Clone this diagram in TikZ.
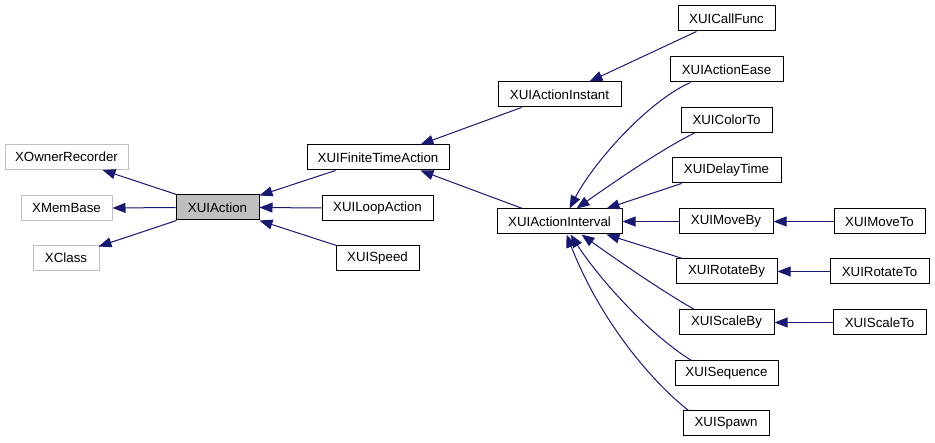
\documentclass[tikz,border=0pt]{standalone}
\usepackage{fontspec}
\setmainfont{Liberation Sans}
\usetikzlibrary{arrows.meta,calc}
\definecolor{edgeblue}{HTML}{191970}
\definecolor{graybox}{HTML}{BFBFBF}
\begin{document}
\begin{tikzpicture}[x=1pt,y=-1pt,
  cls/.style={draw=black,line width=1pt,fill=white,minimum height=25pt,inner sep=0pt,
    font=\fontsize{13.3}{16}\selectfont},
  ext/.style={cls,draw=graybox},
  cur/.style={cls,fill=graybox},
  edge/.style={draw=edgeblue,line width=1pt,-{Triangle[length=13pt,width=10pt]}}]
\fill[white] (0,0) rectangle (935,443);
\useasboundingbox (0,0) rectangle (935,443);
% nodes
\node[ext,minimum width=123pt] (own) at (66.5,157) {XOwnerRecorder};
\node[ext,minimum width=91pt] (mem) at (66.5,208) {XMemBase};
\node[ext,minimum width=66pt] (xcl) at (66,258) {XClass};
\node[cur,minimum width=83pt] (act) at (217.5,207.5) {XUIAction};
\node[cls,minimum width=142pt] (fin) at (378,157.5) {XUIFiniteTimeAction};
\node[cls,minimum width=111pt] (loop) at (377.5,208) {XUILoopAction};
\node[cls,minimum width=83pt] (spd) at (377.5,258.5) {XUISpeed};
\node[cls,minimum width=123pt] (inst) at (559.5,94.5) {XUIActionInstant};
\node[cls,minimum width=125pt] (intv) at (559.5,221.5) {XUIActionInterval};
\node[cls,minimum width=97pt] (call) at (726.5,18.5) {XUICallFunc};
\node[cls,minimum width=113pt] (ease) at (726.5,69.5) {XUIActionEase};
\node[cls,minimum width=91pt] (col) at (726.5,120) {XUIColorTo};
\node[cls,minimum width=109pt] (dly) at (726.5,170.5) {XUIDelayTime};
\node[cls,minimum width=94pt] (mby) at (726,221.5) {XUIMoveBy};
\node[cls,minimum width=91pt] (mto) at (879.5,221.5) {XUIMoveTo};
\node[cls,minimum width=101pt] (rby) at (726.5,271.5) {XUIRotateBy};
\node[cls,minimum width=99pt] (rto) at (879.5,271.5) {XUIRotateTo};
\node[cls,minimum width=95pt] (sby) at (726.5,322.5) {XUIScaleBy};
\node[cls,minimum width=93pt] (sto) at (879.5,322.5) {XUIScaleTo};
\node[cls,minimum width=103pt] (seq) at (726.5,373.5) {XUISequence};
\node[cls,minimum width=86pt] (spw) at (726,423.5) {XUISpawn};
% edges
\draw[edge] ($(act.north west)+(1,0)$) -- ($(own.south west)+(98,0)$);
\draw[edge] (act.west) -- (mem.east);
\draw[edge] ($(act.south west)+(1,0)$) -- ($(xcl.north east)+(-1,1.5)$);
\draw[edge] ($(fin.south west)+(29,0)$) -- ($(act.north east)+(0,1)$);
\draw[edge] (loop.west) -- (act.east);
\draw[edge] ($(spd.north west)+(1,0)$) -- ($(act.south east)+(0,0)$);
\draw[edge] ($(inst.south west)+(24,0)$) -- ($(fin.north west)+(114,0)$);
\draw[edge] ($(intv.north west)+(26,0)$) -- ($(fin.south west)+(114,0)$);
\draw[edge] ($(call.south west)+(19,0)$) -- ($(inst.north west)+(92,0)$);
\draw[edge] ($(ease.south west)+(21,0)$) .. controls (650,100) and (595,160) .. ($(intv.north west)+(73,0)$);
\draw[edge] ($(col.south west)+(14,0)$) .. controls (660,150) and (610,185) .. ($(intv.north west)+(80,0)$);
\draw[edge] ($(dly.south west)+(10,0)$) -- ($(intv.north west)+(110,0)$);
\draw[edge] (mby.west) -- (intv.east);
\draw[edge] (mto.west) -- (mby.east);
\draw[edge] ($(rby.north west)+(7,0)$) -- ($(intv.south west)+(110,0)$);
\draw[edge] (rto.west) -- (rby.east);
\draw[edge] ($(sby.north west)+(16,0)$) .. controls (660,290) and (610,255) .. ($(intv.south west)+(85,0)$);
\draw[edge] (sto.west) -- (sby.east);
\draw[edge] ($(seq.north west)+(17,0)$) .. controls (650,335) and (600,280) .. ($(intv.south west)+(74,0)$);
\draw[edge] ($(spw.north west)+(6,0)$) .. controls (650,380) and (600,320) .. ($(intv.south west)+(70,0)$);
\end{tikzpicture}
\end{document}
